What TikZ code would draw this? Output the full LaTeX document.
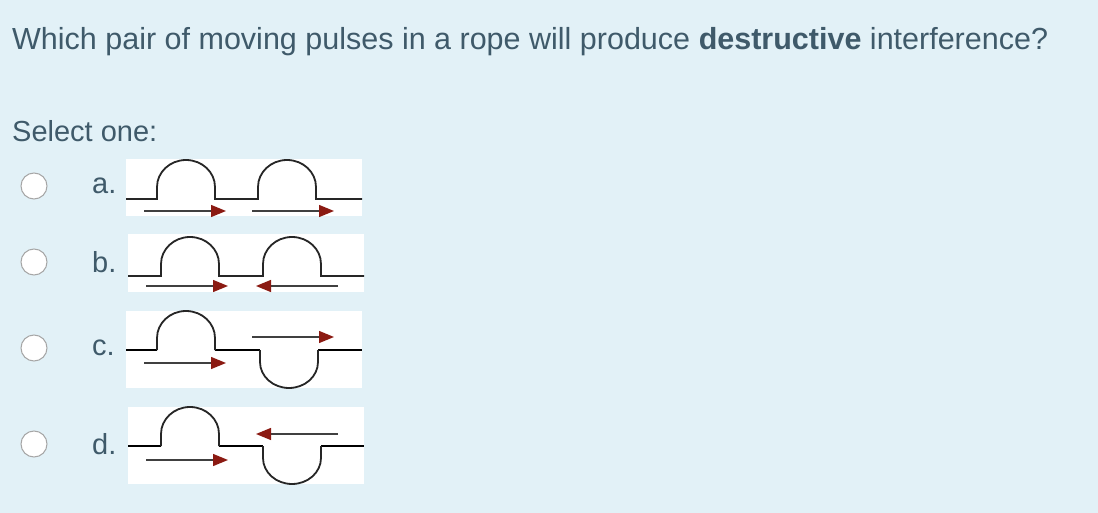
\documentclass[tikz,border=0pt]{standalone}
\usepackage{fontspec}
\setmainfont{Liberation Sans}
\usetikzlibrary{arrows.meta}
\definecolor{bg}{HTML}{E2F1F7}
\definecolor{txt}{HTML}{3F5A6A}
\definecolor{arr}{HTML}{8B1A12}
\tikzset{
 rope/.style={line width=2.6pt,black},
 pulse/.style={line width=1.8pt,black!85},
 motion/.style={line width=1.3pt,black!75,-{Triangle[length=15pt,width=12pt,fill=arr,color=arr]}},
 radio/.style={circle,draw=black!35,fill=white,minimum size=26pt,inner sep=0pt,line width=1pt},
 lbl/.style={text=txt,font=\fontsize{29}{34}\selectfont,anchor=west,inner sep=0pt},
 panel/.style={fill=white,draw=none}
}
\newcommand{\uppulse}[2]{(#1,#2) -- (#1,#2-12) arc[start angle=180,end angle=360,x radius=29,y radius=27] -- (#1+58,#2)}
\newcommand{\dnpulse}[2]{(#1,#2) -- (#1,#2+12) arc[start angle=180,end angle=0,x radius=29,y radius=26] -- (#1+58,#2)}
\begin{document}
\begin{tikzpicture}[x=1pt,y=-1pt]
\fill[bg] (0,0) rectangle (1098,513);
\useasboundingbox (0,0) rectangle (1098,513);
\node[lbl,font=\fontsize{30.5}{34}\selectfont] (q) at (12,42) {Which pair of moving pulses in a rope will produce \textbf{destructive} interference?};
\node[lbl] (sel) at (12,131) {Select one:};
\foreach \y/\n/\l in {186/a/a., 262/b/b., 348/c/c., 444/d/d.}{
 \node[radio] (r\n) at (34,\y) {};
 \node[lbl] (l\n) at (92,\y) {\l};
}
% a
\fill[panel] (126,159) rectangle (362,216);
\draw[pulse] (126,199) -- \uppulse{157}{199} -- (258,199) -- \uppulse{258}{199} -- (362,199);
\coordinate (a1s) at (144,211); \coordinate (a1e) at (226,211);
\coordinate (a2s) at (252,211); \coordinate (a2e) at (334,211);
\draw[motion] (a1s) -- (a1e); \draw[motion] (a2s) -- (a2e);
% b
\fill[panel] (128,234) rectangle (364,292);
\draw[pulse] (128,276) -- \uppulse{161}{276} -- (263,276) -- \uppulse{263}{276} -- (364,276);
\coordinate (b1s) at (146,286); \coordinate (b1e) at (228,286);
\coordinate (b2s) at (338,286); \coordinate (b2e) at (256,286);
\draw[motion] (b1s) -- (b1e); \draw[motion] (b2s) -- (b2e);
% c
\fill[panel] (126,311) rectangle (362,388);
\draw[rope] (126,350) -- (157,350); \draw[rope] (215,350) -- (260,350); \draw[rope] (318,350) -- (362,350);
\draw[pulse] \uppulse{157}{350};
\draw[pulse] \dnpulse{260}{350};
\coordinate (c1s) at (144,363); \coordinate (c1e) at (226,363);
\coordinate (c2s) at (252,337); \coordinate (c2e) at (334,337);
\draw[motion] (c1s) -- (c1e); \draw[motion] (c2s) -- (c2e);
% d
\fill[panel] (128,407) rectangle (364,484);
\draw[rope] (128,446) -- (161,446); \draw[rope] (219,446) -- (263,446); \draw[rope] (321,446) -- (364,446);
\draw[pulse] \uppulse{161}{446};
\draw[pulse] \dnpulse{263}{446};
\coordinate (d1s) at (146,460); \coordinate (d1e) at (228,460);
\coordinate (d2s) at (338,434); \coordinate (d2e) at (256,434);
\draw[motion] (d1s) -- (d1e); \draw[motion] (d2s) -- (d2e);
\end{tikzpicture}
\end{document}
